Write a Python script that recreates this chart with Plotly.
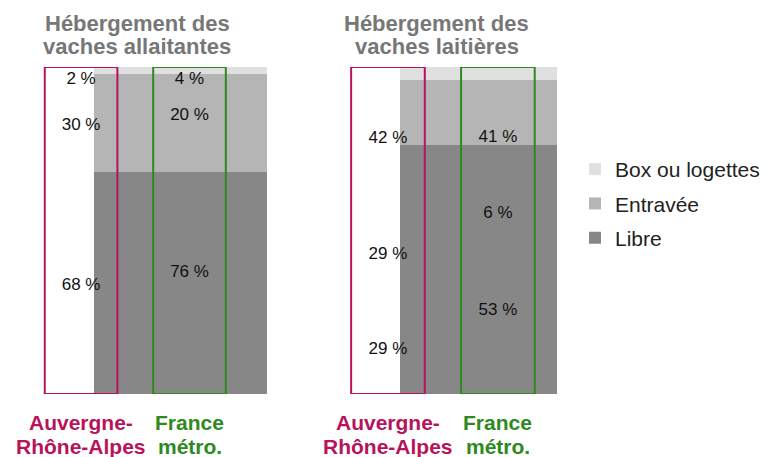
import plotly.graph_objects as go

# ---- data ----
categories = ["Auvergne-<br>Rhône-Alpes", "France<br>métro."]
series = ["Box ou logettes", "Entravée", "Libre"]
allaitantes_box = [2, 4]
allaitantes_entravee = [30, 20]
allaitantes_libre = [68, 76]
laitieres_box = [42, 41]
laitieres_entravee = [29, 6]
laitieres_libre = [29, 53]
titles = ["Hébergement des<br>vaches allaitantes", "Hébergement des<br>vaches laitières"]

# ---- styles ----
FONT = "Arial, Liberation Sans, sans-serif"
series_colors = {"Box ou logettes": "#e0e0e0", "Entravée": "#b5b5b5", "Libre": "#878787"}
cat_colors = ["#b8135a", "#2e8a1e"]
W, H = 765, 457

panels = [
    {"box": allaitantes_box, "ent": allaitantes_entravee, "lib": allaitantes_libre,
     "shade": 0, "xa": "x", "ya": "y", "bar_c": 0.917, "bar_w": 1.587},
    {"box": laitieres_box, "ent": laitieres_entravee, "lib": laitieres_libre,
     "shade": 1, "xa": "x2", "ya": "y2", "bar_c": 0.824, "bar_w": 1.43},
]

fig = go.Figure()

for pi, p in enumerate(panels):
    # grey shaded stacked band (as in the source graphic, it reuses the suckler-cow stack)
    s = p["shade"]
    stack = [("Libre", allaitantes_libre[s]), ("Entravée", allaitantes_entravee[s]),
             ("Box ou logettes", allaitantes_box[s])]
    for name, v in stack:
        fig.add_trace(go.Bar(
            x=[p["bar_c"]], y=[v], width=[p["bar_w"]], name=name,
            marker=dict(color=series_colors[name], line=dict(width=0)),
            xaxis=p["xa"], yaxis=p["ya"], showlegend=(pi == 0),
            legendgroup=name, legendrank={"Box ou logettes": 1, "Entravée": 2, "Libre": 3}[name],
            hoverinfo="skip"))
    # value labels
    for ci in range(len(categories)):
        vals = [p["lib"][ci], p["ent"][ci], p["box"][ci]]
        cum = 0
        xs, ys, ts = [], [], []
        for v in vals:
            c = cum + v / 2
            cum += v
            xs.append(ci)
            ys.append(min(c, 97) - 1)
            ts.append(f"{v} %")
        fig.add_trace(go.Scatter(
            x=xs, y=ys, text=ts, mode="text", showlegend=False,
            textfont=dict(family=FONT, size=17, color="#111111"),
            xaxis=p["xa"], yaxis=p["ya"], hoverinfo="skip"))
        # outline rectangle
        fig.add_shape(type="rect", xref=p["xa"], yref=p["ya"],
                      x0=ci - 0.335, x1=ci + 0.335, y0=0, y1=100,
                      line=dict(color=cat_colors[ci], width=2), fillcolor="rgba(0,0,0,0)")
        for li, line in enumerate(categories[ci].split("<br>")):
            fig.add_annotation(xref=p["xa"], yref="paper", x=ci, y=(H - (422 + 24 * li)) / H,
                               xanchor="center", yanchor="middle", showarrow=False,
                               text=f"<b>{line}</b>",
                               font=dict(family=FONT, size=21, color=cat_colors[ci]))

title_x = [138, 439]
for i, t in enumerate(titles):
    for li, line in enumerate(t.split("<br>")):
        fig.add_annotation(xref="paper", yref="paper", x=title_x[i] / W,
                           y=(H - (24 + 22 * li)) / H,
                           xanchor="center", yanchor="middle", showarrow=False,
                           text=f"<b>{line}</b>",
                           font=dict(family=FONT, size=22, color="#777777"))

ydom = [(H - 394) / H, (H - 67) / H]
fig.update_layout(
    width=W, height=H, margin=dict(l=0, r=0, t=0, b=0),
    plot_bgcolor="white", paper_bgcolor="white",
    barmode="stack", bargap=0,
    xaxis=dict(domain=[0, 300 / W], range=[(0 - 81.5) / 109, (300 - 81.5) / 109],
               visible=False, fixedrange=True),
    xaxis2=dict(domain=[300 / W, 580 / W], range=[(300 - 390) / 110.5, (580 - 390) / 110.5],
                visible=False, fixedrange=True),
    yaxis=dict(domain=ydom, range=[0, 100], visible=False),
    yaxis2=dict(domain=ydom, range=[0, 100], visible=False, anchor="x2"),
    legend=dict(x=578 / W, xanchor="left", y=(H - 149) / H, yanchor="top",
                traceorder="grouped", tracegroupgap=4,
                font=dict(family=FONT, size=21, color="#222222"),
                bgcolor="rgba(0,0,0,0)"),
    showlegend=True,
)

fig.write_html("out.html", post_script="document.body.style.margin='0px';",
               config={"displayModeBar": False})
